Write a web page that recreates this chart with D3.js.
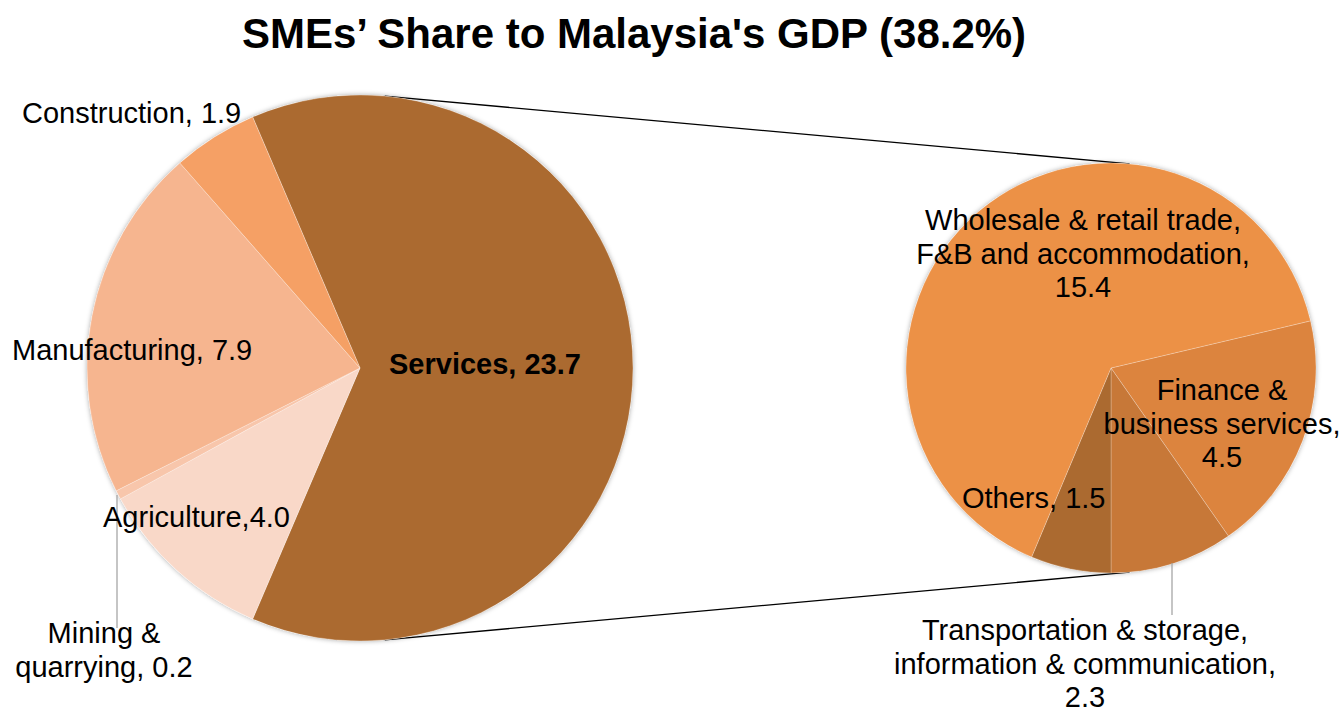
<!DOCTYPE html>
<html>
<head>
<meta charset="utf-8">
<script src="https://cdn.jsdelivr.net/npm/d3@7"></script>
<style>
  body { margin: 0; background: #fff; }
  text { font-family: "Liberation Sans", Arial, sans-serif; fill: #000; }
</style>
</head>
<body>
<script>
var svgWidth = 1339;
var svgHeight = 716;

// main pie, clockwise from the services slice
var mainNames = ["Services", "Agriculture", "Mining & quarrying", "Manufacturing", "Construction"];
var mainValues = [23.7, 4.0, 0.2, 7.9, 1.9];
var mainColors = ["#AB6A30", "#F9D8C8", "#F8C6AB", "#F6B58F", "#F5A065"];

// breakdown of services
var subNames = ["Finance & business services", "Transportation & storage, information & communication", "Others", "Wholesale & retail trade, F&B and accommodation"];
var subValues = [4.5, 2.3, 1.5, 15.4];
var subColors = ["#DC843E", "#C77838", "#AB6A30", "#EC9146"];

var title = "SMEs\u2019 Share to Malaysia's GDP (38.2%)";

var svg = d3.select("body")
  .append("svg")
  .attr("width", svgWidth)
  .attr("height", svgHeight);

var defs = svg.append("defs");
var shadow = defs.append("filter").attr("id", "shadow")
  .attr("x", "-10%").attr("y", "-10%").attr("width", "120%").attr("height", "120%");
shadow.append("feDropShadow")
  .attr("dx", 0).attr("dy", 0)
  .attr("stdDeviation", 2.5)
  .attr("flood-color", "#000")
  .attr("flood-opacity", 0.35);

var main = { cx: 360, cy: 368, r: 273 };
var sub = { cx: 1111, cy: 368, r: 205 };

var mainTotal = d3.sum(mainValues);
var servAngle = mainValues[0] / mainTotal * 2 * Math.PI;

// services centred on the right side
var mainPie = d3.pie().sort(null)
  .startAngle(Math.PI / 2 - servAngle / 2)
  .endAngle(Math.PI / 2 - servAngle / 2 + 2 * Math.PI);
var mainData = mainPie(mainValues);

var subTotal = d3.sum(subValues);
var subStart = Math.PI - (subValues[0] + subValues[1]) / subTotal * 2 * Math.PI;
var subPie = d3.pie().sort(null)
  .startAngle(subStart)
  .endAngle(subStart + 2 * Math.PI);
var subData = subPie(subValues);

var mainArc = d3.arc().innerRadius(0).outerRadius(main.r);
var subArc = d3.arc().innerRadius(0).outerRadius(sub.r);

// connector lines (outer tangents)
var dist = sub.cx - main.cx;
var th = Math.asin((main.r - sub.r) / dist);
[-1, 1].forEach(function(s) {
  svg.append("line")
    .attr("x1", main.cx + main.r * Math.sin(th))
    .attr("y1", main.cy + s * main.r * Math.cos(th))
    .attr("x2", sub.cx + sub.r * Math.sin(th))
    .attr("y2", sub.cy + s * sub.r * Math.cos(th))
    .attr("stroke", "#000")
    .attr("stroke-width", 1.3);
});

var g1 = svg.append("g")
  .attr("transform", `translate(${main.cx}, ${main.cy})`);
g1.append("circle").attr("r", main.r).attr("fill", "#fff").attr("filter", "url(#shadow)");
g1.selectAll("path")
  .data(mainData)
  .enter()
  .append("path")
  .attr("d", mainArc)
  .attr("fill", (d, i) => mainColors[i])
  .attr("stroke", "rgba(255,255,255,0.35)")
  .attr("stroke-width", 0.8);

var g2 = svg.append("g")
  .attr("transform", `translate(${sub.cx}, ${sub.cy})`);
g2.append("circle").attr("r", sub.r).attr("fill", "#fff").attr("filter", "url(#shadow)");
g2.selectAll("path")
  .data(subData)
  .enter()
  .append("path")
  .attr("d", subArc)
  .attr("fill", (d, i) => subColors[i])
  .attr("stroke", "rgba(255,255,255,0.3)")
  .attr("stroke-width", 0.8);

// leader lines
svg.append("line")
  .attr("x1", 117).attr("y1", 495).attr("x2", 117).attr("y2", 628)
  .attr("stroke", "#A6A6A6").attr("stroke-width", 1.3);
svg.append("line")
  .attr("x1", 1172).attr("y1", 563).attr("x2", 1172).attr("y2", 615)
  .attr("stroke", "#A6A6A6").attr("stroke-width", 1.3);

// title
svg.append("text")
  .attr("x", 634)
  .attr("y", 48)
  .attr("text-anchor", "middle")
  .style("font-weight", "bold")
  .style("font-size", "42px")
  .text(title);

// data labels
var labels = [
  { lines: ["Construction, 1.9"], x: 22, y: 123, anchor: "start" },
  { lines: ["Manufacturing, 7.9"], x: 12, y: 360, anchor: "start" },
  { lines: ["Services, 23.7"], x: 389, y: 374, anchor: "start", bold: true },
  { lines: ["Agriculture,4.0"], x: 103, y: 527, anchor: "start" },
  { lines: ["Mining &", "quarrying, 0.2"], x: 104, y: 643, anchor: "middle" },
  { lines: ["Wholesale & retail trade,", "F&B and accommodation,", "15.4"], x: 1083, y: 230, anchor: "middle" },
  { lines: ["Finance &", "business services,", "4.5"], x: 1222, y: 400, anchor: "middle" },
  { lines: ["Others, 1.5"], x: 962, y: 508, anchor: "start" },
  { lines: ["Transportation & storage,", "information & communication,", "2.3"], x: 1085, y: 640, anchor: "middle" }
];

labels.forEach(function(l) {
  var t = svg.append("text")
    .attr("text-anchor", l.anchor)
    .style("font-size", "29px")
    .style("font-weight", l.bold ? "bold" : "normal");
  l.lines.forEach(function(line, i) {
    t.append("tspan")
      .attr("x", l.x)
      .attr("y", l.y + i * 33.5)
      .text(line);
  });
});
</script>
</body>
</html>
